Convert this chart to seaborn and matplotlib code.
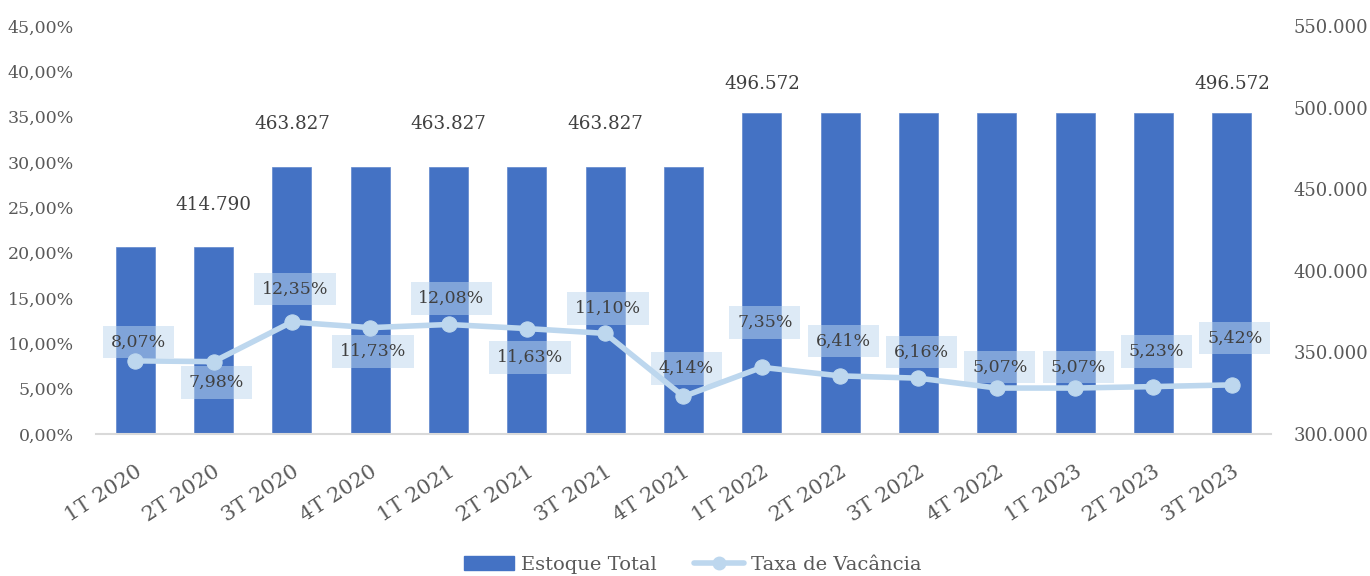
import matplotlib
matplotlib.use("Agg")
import matplotlib.pyplot as plt
import matplotlib.ticker as mticker
import matplotlib.transforms as mtransforms
from matplotlib.patches import Patch
from matplotlib.lines import Line2D
import seaborn as sns
import pandas as pd
import numpy as np

quarters = ["1T 2020", "2T 2020", "3T 2020", "4T 2020", "1T 2021", "2T 2021", "3T 2021",
            "4T 2021", "1T 2022", "2T 2022", "3T 2022", "4T 2022", "1T 2023", "2T 2023", "3T 2023"]
estoque_total = [414790, 414790, 463827, 463827, 463827, 463827, 463827,
                 463827, 496572, 496572, 496572, 496572, 496572, 496572, 496572]
bar_label_shown = [False, True, True, False, True, False, True,
                   False, True, False, False, False, False, False, True]
taxa_vacancia = [8.07, 7.98, 12.35, 11.73, 12.08, 11.63, 11.10,
                 4.14, 7.35, 6.41, 6.16, 5.07, 5.07, 5.23, 5.42]

# layout only: vertical offsets (pixels) of the labels
line_label_dy = [19, -21, 33, -24, 26, -29, 25, 28, 45, 35, 26, 21, 21, 35, 47]
bar_label_dy = [42, 42, 43, 43, 43, 43, 43, 43, 29, 29, 29, 29, 29, 29, 29]

sns.set_theme(style="white")
FONT = ["DejaVu Serif"]
plt.rcParams["font.family"] = FONT

BAR_C = "#4472C4"
LINE_C = "#BDD7EE"
TXT = "#404040"
TICK = "#595959"
FS = 12.5

df = pd.DataFrame({"q": quarters, "estoque": estoque_total, "taxa": taxa_vacancia})

fig = plt.figure(figsize=(13.7, 5.76), dpi=100)
ax = fig.add_axes([0.0701, 0.2465, 0.8576, 0.7084])

sns.barplot(data=df, x="q", y="estoque", color=BAR_C, width=0.5, ax=ax,
            saturation=1, edgecolor="#5f86cc", linewidth=0.5)
ax.set_ylim(300000, 550000)
ax.set_yticks(np.arange(300000, 550001, 50000))
ax.yaxis.set_major_formatter(mticker.FuncFormatter(lambda v, p: f"{int(v):,}".replace(",", ".")))
ax.set_xlim(-0.5, len(quarters) - 0.5)
ax.set_xlabel("")
ax.set_ylabel("")

axl = ax.twinx()
sns.lineplot(data=df, x="q", y="taxa", color=LINE_C, linewidth=4, marker="o",
             markersize=11, markeredgecolor=LINE_C, ax=axl, sort=False)
axl.set_ylim(0, 45)
axl.set_yticks(np.arange(0, 45.01, 5))
axl.yaxis.set_major_formatter(mticker.FuncFormatter(lambda v, p: f"{v:.2f}".replace(".", ",") + "%"))
axl.set_ylabel("")
axl.set_xlabel("")
axl.set_xlim(-0.5, len(quarters) - 0.5)

# bars axis on the right, line axis on the left
ax.yaxis.tick_right()
axl.yaxis.tick_left()

for a in (ax, axl):
    for s in a.spines.values():
        s.set_visible(False)
    a.tick_params(axis="both", length=0, labelcolor=TICK)
    a.grid(False)
ax.spines["bottom"].set_visible(True)
ax.spines["bottom"].set_color("#D9D9D9")
ax.spines["bottom"].set_linewidth(1.5)
ax.tick_params(axis="y", pad=16, labelsize=13, labelright=True, labelleft=False)
axl.tick_params(axis="y", pad=16, labelsize=12.5, labelleft=True, labelright=False)
ax.tick_params(axis="x", pad=26)
axl.tick_params(axis="x", labelbottom=False)
shift = mtransforms.ScaledTranslation(5 / 100, 0, fig.dpi_scale_trans)
for lbl in ax.get_xticklabels():
    lbl.set_rotation(33)
    lbl.set_ha("right")
    lbl.set_va("center")
    lbl.set_rotation_mode("anchor")
    lbl.set_fontsize(15)
    lbl.set_transform(lbl.get_transform() + shift)

px2pt = 72 / 100
for i, (v, show) in enumerate(zip(estoque_total, bar_label_shown)):
    if show:
        ax.annotate(f"{v:,}".replace(",", "."), (i, v), xytext=(0, bar_label_dy[i] * px2pt),
                    textcoords="offset points", ha="center", va="center",
                    fontsize=13.2, color=TXT)

for i, v in enumerate(taxa_vacancia):
    axl.annotate(f"{v:.2f}".replace(".", ",") + "%", (i, v),
                 xytext=(3 * px2pt, line_label_dy[i] * px2pt),
                 textcoords="offset points", ha="center", va="center",
                 fontsize=FS, color=TXT,
                 bbox=dict(boxstyle="square,pad=0.45", facecolor=LINE_C, edgecolor="none", alpha=0.5))

handles = [Patch(facecolor=BAR_C, edgecolor=BAR_C),
           Line2D([0], [0], color=LINE_C, lw=4, marker="o", markersize=9)]
fig.legend(handles, ["Estoque Total", "Taxa de Vacância"], loc="center",
           bbox_to_anchor=(0.5055, 1 - 565 / 576), ncol=2, frameon=False, fontsize=14,
           labelcolor=TICK, handlelength=2.6, handletextpad=0.35, columnspacing=1.9,
           borderpad=0)

fig.savefig("out.png", dpi=100)
